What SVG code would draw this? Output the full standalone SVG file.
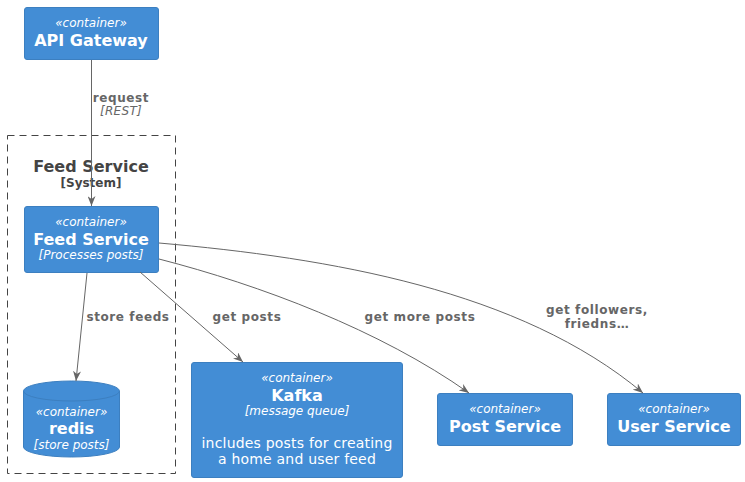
<svg xmlns="http://www.w3.org/2000/svg" width="745" height="482" viewBox="0 0 745 482">
<defs>
<style>
.box{fill:#438DD5;stroke:#3C7FC0;stroke-width:1}
.t{font-family:"DejaVu Sans","Noto Sans",sans-serif;fill:#FFFFFF;text-anchor:middle}
.st{font-size:12px;font-style:italic}
.ti{font-size:16px;font-weight:bold}
.te{font-size:12px;font-style:italic}
.de{font-size:14px;letter-spacing:0.2px}
.lbl{font-family:"DejaVu Sans","Noto Sans",sans-serif;fill:#666666;font-size:12px;font-weight:bold;text-anchor:middle;letter-spacing:0.6px}
.lbli{font-family:"DejaVu Sans","Noto Sans",sans-serif;fill:#666666;font-size:12px;font-style:italic;text-anchor:middle;letter-spacing:0.3px}
.edge{fill:none;stroke:#666666;stroke-width:1;marker-end:url(#arr)}
.bt{font-family:"DejaVu Sans","Noto Sans",sans-serif;fill:#444444;font-weight:bold;text-anchor:middle}
</style>
<marker id="arr" viewBox="0 0 10 8" refX="10" refY="4" markerWidth="10" markerHeight="8" markerUnits="userSpaceOnUse" orient="auto">
<path d="M0,0 L10,4 L0,8 L3,4 Z" fill="#666666"/>
</marker>
</defs>

<g id="boundary-feed">
<rect x="7.5" y="135.5" width="168" height="338" fill="none" stroke="#444444" stroke-width="1" stroke-dasharray="7,5"/>
<text class="bt" x="91" y="172" font-size="16">Feed Service</text>
<text class="bt" x="91" y="187" font-size="12">[System]</text>
</g>

<g id="api-gateway">
<rect class="box" x="24.5" y="7.5" width="134" height="52" rx="2.5"/>
<text class="t st" x="91" y="27">«container»</text>
<text class="t ti" x="91" y="46">API Gateway</text>
</g>

<g id="feed-service">
<rect class="box" x="24.5" y="206.5" width="134" height="66" rx="2.5"/>
<text class="t st" x="91" y="226">«container»</text>
<text class="t ti" x="91" y="245">Feed Service</text>
<text class="t te" x="91" y="259">[Processes posts]</text>
</g>

<g id="redis">
<path class="box" d="M23.5,391 a48,10 0 0 1 96,0 v56 a48,10 0 0 1 -96,0 z"/>
<path d="M23.5,391 a48,10 0 0 0 96,0" fill="none" stroke="#3C7FC0" stroke-width="1"/>
<text class="t st" x="71.5" y="416">«container»</text>
<text class="t ti" x="71.5" y="434">redis</text>
<text class="t te" x="71.5" y="449">[store posts]</text>
</g>

<g id="kafka">
<rect class="box" x="191.5" y="362.5" width="211" height="115" rx="2.5"/>
<text class="t st" x="297" y="382">«container»</text>
<text class="t ti" x="297" y="401">Kafka</text>
<text class="t te" x="297" y="415">[message queue]</text>
<text class="t de" x="297" y="448">includes posts for creating</text>
<text class="t de" x="297" y="464">a home and user feed</text>
</g>

<g id="post-service">
<rect class="box" x="437.5" y="393.5" width="135" height="52" rx="2.5"/>
<text class="t st" x="505" y="413">«container»</text>
<text class="t ti" x="505" y="432">Post Service</text>
</g>

<g id="user-service">
<rect class="box" x="607.5" y="393.5" width="133" height="52" rx="2.5"/>
<text class="t st" x="674" y="413">«container»</text>
<text class="t ti" x="674" y="432">User Service</text>
</g>

<g id="connectors">
<path class="edge" d="M91.5,60 L91.5,206"/>
<text class="lbl" x="121" y="102">request</text>
<text class="lbli" x="121" y="115">[REST]</text>

<path class="edge" d="M87,273 L76,381"/>
<text class="lbl" x="128" y="321">store feeds</text>

<path class="edge" d="M140,272 L243,362"/>
<text class="lbl" x="247" y="321">get posts</text>

<path class="edge" d="M159,259 C260,285 380,330 469,393"/>
<text class="lbl" x="420" y="321">get more posts</text>

<path class="edge" d="M159,243 C330,258 520,290 643,393"/>
<text class="lbl" x="597" y="314">get followers,</text>
<text class="lbl" x="597" y="328">friedns…</text>
</g>
</svg>
